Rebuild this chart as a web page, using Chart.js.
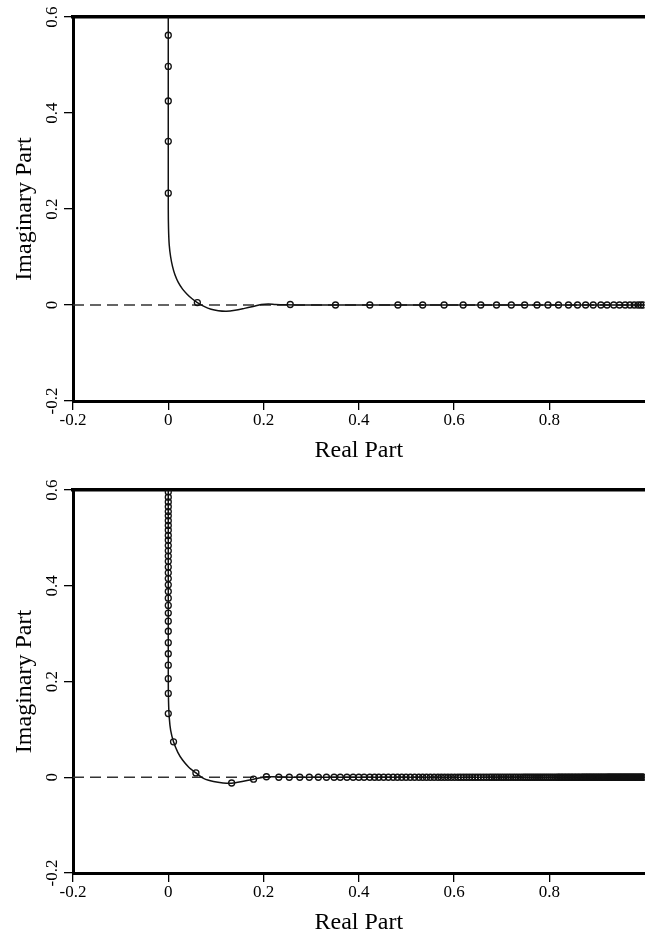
<!DOCTYPE html>
<html>
<head>
<meta charset="utf-8">
<script src="https://cdn.jsdelivr.net/npm/chart.js@4.4.0/dist/chart.umd.min.js"></script>
<style>
  html, body { margin: 0; padding: 0; background: #fff; overflow: hidden; width: 645px; height: 940px; }
  .panel { position: absolute; left: 0; width: 650px; height: 470px; }
  #panelA { top: 0; }
  #panelB { top: 470px; }
  canvas { display: block; }
</style>
</head>
<body>
<div class="panel" id="panelA"><canvas id="chartA" width="650" height="470"></canvas></div>
<div class="panel" id="panelB"><canvas id="chartB" width="650" height="470"></canvas></div>
<script>
// Axis ticks shared by both panels
const xTicks = [-0.2, 0, 0.2, 0.4, 0.6, 0.8];
const yTicks = [-0.2, 0, 0.2, 0.4, 0.6];

// Dashed reference line along the real axis
const zeroLineRe = [-0.2, 1.0];

// ---- Upper panel ----
// continuous locus
const curveA_re = [0, 0, 0.0005, 0.002, 0.005, 0.009, 0.014, 0.021, 0.030, 0.040, 0.050, 0.061, 0.075, 0.090, 0.105, 0.122, 0.140, 0.160, 0.178, 0.195, 0.210, 0.225, 0.245, 0.270, 1.000];
const curveA_im = [0.700, 0.200, 0.160, 0.125, 0.100, 0.080, 0.063, 0.047, 0.033, 0.022, 0.013, 0.005, -0.003, -0.009, -0.012, -0.013, -0.011, -0.007, -0.003, 0.001, 0.002, 0.001, 0.0003, 0, 0];
// sampled points on the imaginary axis (real part 0)
const imagAxisA = [0.562, 0.497, 0.425, 0.341, 0.233];
// sampled points off the axes
const offAxisA_re = [0.061, 0.256];
const offAxisA_im = [0.005, 0.001];
// sampled points on the real axis (imaginary part 0)
const realAxisA = [0.351, 0.423, 0.482, 0.534, 0.579, 0.619, 0.656, 0.689, 0.720, 0.748, 0.774, 0.797, 0.819, 0.840, 0.859, 0.876, 0.892, 0.908, 0.921, 0.935, 0.947, 0.959, 0.969, 0.978, 0.986, 0.992, 0.997];

// ---- Lower panel ----
const curveB_re = [0, 0, 0.0005, 0.002, 0.005, 0.011, 0.020, 0.030, 0.043, 0.058, 0.075, 0.095, 0.115, 0.133, 0.155, 0.179, 0.206, 0.220, 0.240, 0.270, 1.000];
const curveB_im = [0.700, 0.200, 0.160, 0.125, 0.098, 0.074, 0.052, 0.036, 0.021, 0.009, -0.003, -0.009, -0.012, -0.0125, -0.009, -0.004, 0.0008, 0.0012, 0.0004, 0, 0];
const imagAxisB = [0.606, 0.596, 0.585, 0.575, 0.565, 0.555, 0.546, 0.536, 0.526, 0.516, 0.505, 0.495, 0.484, 0.473, 0.462, 0.451, 0.439, 0.427, 0.415, 0.402, 0.388, 0.374, 0.359, 0.343, 0.326, 0.305, 0.281, 0.258, 0.234, 0.206, 0.175, 0.133];
const offAxisB_re = [0.011, 0.058, 0.133, 0.179, 0.206];
const offAxisB_im = [0.074, 0.009, -0.012, -0.004, 0.001];
const realAxisB = [0.232, 0.254, 0.276, 0.296, 0.315, 0.332, 0.348, 0.361, 0.375, 0.388, 0.400, 0.411, 0.423, 0.433, 0.442,
  0.452, 0.462, 0.472, 0.481, 0.490, 0.499, 0.508, 0.517, 0.526, 0.534, 0.542, 0.550, 0.558, 0.566, 0.573, 0.580, 0.587,
  0.594, 0.601, 0.608, 0.614, 0.620, 0.626, 0.632, 0.638, 0.644, 0.650, 0.656, 0.662, 0.668, 0.674, 0.679, 0.684, 0.689,
  0.694, 0.699, 0.704, 0.709, 0.714, 0.719, 0.724, 0.729, 0.734, 0.739, 0.744, 0.748, 0.752, 0.756, 0.760, 0.764, 0.768,
  0.772, 0.776, 0.780, 0.784, 0.788, 0.792, 0.796, 0.800, 0.804, 0.808, 0.812, 0.816, 0.819, 0.822, 0.825, 0.828, 0.831,
  0.834, 0.837, 0.840, 0.843, 0.846, 0.849, 0.852, 0.855, 0.858, 0.861, 0.864, 0.867, 0.870, 0.872, 0.875, 0.877, 0.880,
  0.882, 0.885, 0.887, 0.890, 0.892, 0.895, 0.897, 0.900, 0.902, 0.905, 0.907, 0.910, 0.912, 0.915, 0.917, 0.920, 0.922,
  0.924, 0.926, 0.928, 0.930, 0.932, 0.934, 0.936, 0.938, 0.940, 0.942, 0.944, 0.946, 0.948, 0.950, 0.952, 0.954, 0.956,
  0.958, 0.960, 0.962, 0.964, 0.966, 0.968, 0.970, 0.972, 0.974, 0.976, 0.978, 0.980, 0.982, 0.984, 0.986, 0.988, 0.990,
  0.992, 0.994, 0.996, 0.998];

const FAMILY = '"Liberation Serif", "Times New Roman", Times, serif';
const fmt = v => (Math.abs(v) < 1e-9 ? '0' : Number(v).toFixed(1));

function buildPanel(canvasId, p) {
  const curve = p.curveRe.map((x, i) => ({ x, y: p.curveIm[i] }));
  const marks = [
    ...p.imagAxis.map(y => ({ x: 0, y })),
    ...p.offRe.map((x, i) => ({ x, y: p.offIm[i] })),
    ...p.realAxis.map(x => ({ x, y: 0 }))
  ];
  const zeroLine = zeroLineRe.map(x => ({ x, y: 0 }));

  return new Chart(document.getElementById(canvasId), {
    type: 'scatter',
    data: {
      datasets: [
        { data: zeroLine, showLine: true, borderColor: '#333', borderWidth: 1.3, borderDash: [11, 6],
          pointRadius: 0, order: 3 },
        { data: curve, showLine: true, borderColor: '#111', borderWidth: 1.5, pointRadius: 0,
          tension: 0.3, order: 2 },
        { data: marks, showLine: false, pointStyle: 'circle', pointRadius: 3, pointBorderWidth: 1.3,
          pointBorderColor: '#111', pointBackgroundColor: 'rgba(0,0,0,0)', order: 1 }
      ]
    },
    options: {
      responsive: false,
      animation: false,
      events: [],
      layout: { padding: { top: p.top, right: 2.5, bottom: 0, left: 0 } },
      plugins: { legend: { display: false }, tooltip: { enabled: false } },
      scales: {
        x: {
          type: 'linear', position: 'bottom', min: -0.2, max: 1.0,
          afterBuildTicks: s => { s.ticks = xTicks.map(v => ({ value: v })); },
          afterFit: s => { s.height = p.xh; },
          ticks: { font: { family: FAMILY, size: 17 }, color: '#000', padding: 0, maxRotation: 0,
                   autoSkip: false, callback: v => fmt(v) },
          grid: { drawOnChartArea: false, drawTicks: true, tickLength: 9, color: '#000', lineWidth: 1.3 },
          border: { display: true, width: 3, color: '#000' },
          title: { display: true, text: 'Real Part', color: '#000',
                   font: { family: FAMILY, size: 24 }, padding: { top: 0, bottom: p.titlePad } }
        },
        xTop: {
          type: 'linear', position: 'top', min: -0.2, max: 1.0,
          afterFit: s => { s.height = 0; },
          ticks: { display: false },
          grid: { display: false, drawTicks: false },
          border: { display: true, width: 3.5, color: '#000' }
        },
        y: {
          type: 'linear', position: 'left', min: -0.2, max: 0.6,
          afterBuildTicks: s => { s.ticks = yTicks.map(v => ({ value: v })); },
          afterFit: s => { s.width = 73; },
          ticks: { font: { family: FAMILY, size: 17 }, color: '#000', padding: -2, minRotation: 90,
                   maxRotation: 90, crossAlign: 'center', autoSkip: false, callback: v => fmt(v) },
          grid: { drawOnChartArea: false, drawTicks: true, tickLength: 9, color: '#000', lineWidth: 1.3 },
          border: { display: true, width: 3, color: '#000' },
          title: { display: true, text: 'Imaginary Part', color: '#000',
                   font: { family: FAMILY, size: 24 }, padding: { top: 10, bottom: 0 } }
        }
      }
    }
  });
}

buildPanel('chartA', {
  curveRe: curveA_re, curveIm: curveA_im, imagAxis: imagAxisA,
  offRe: offAxisA_re, offIm: offAxisA_im, realAxis: realAxisA,
  top: 17, xh: 69, titlePad: 5
});
buildPanel('chartB', {
  curveRe: curveB_re, curveIm: curveB_im, imagAxis: imagAxisB,
  offRe: offAxisB_re, offIm: offAxisB_im, realAxis: realAxisB,
  top: 20, xh: 67, titlePad: 2.5
});
</script>
</body>
</html>
